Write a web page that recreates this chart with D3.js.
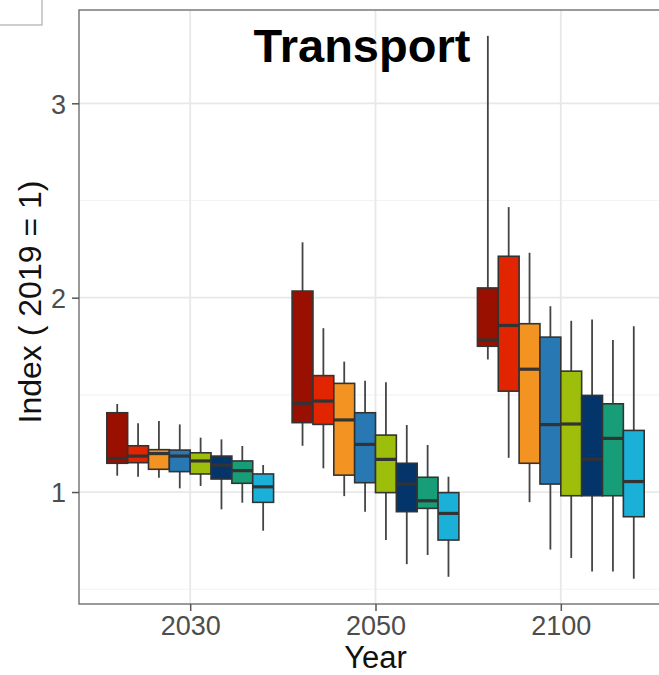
<!DOCTYPE html>
<html><head><meta charset="utf-8">
<script src="https://cdn.jsdelivr.net/npm/d3@7"></script>
<style>body{margin:0;background:#fff}svg{display:block}</style>
</head><body>
<svg id="c" width="659" height="675"></svg>
<script>
const years = ["2030", "2050", "2100"];
const series = ["s1", "s2", "s3", "s4", "s5", "s6", "s7", "s8"];
const colors = ["#9A1000", "#E12500", "#F39322", "#2878B4", "#9DBE0A", "#04356A", "#179E78", "#1AB0D8"];
const yTicks = [1, 2, 3];
// [whiskerLow, q1, median, q3, whiskerHigh] per year, per series
const stats2030 = [
  [1.084, 1.148, 1.173, 1.408, 1.453],
  [1.079, 1.151, 1.185, 1.238, 1.354],
  [1.074, 1.117, 1.198, 1.218, 1.365],
  [1.019, 1.105, 1.185, 1.216, 1.348],
  [1.031, 1.093, 1.160, 1.202, 1.280],
  [0.911, 1.067, 1.139, 1.185, 1.271],
  [0.945, 1.045, 1.110, 1.160, 1.237],
  [0.801, 0.947, 1.027, 1.093, 1.139]
];
const stats2050 = [
  [1.238, 1.357, 1.457, 2.034, 2.285],
  [1.122, 1.348, 1.468, 1.599, 1.843],
  [0.979, 1.087, 1.371, 1.559, 1.671],
  [0.899, 1.048, 1.245, 1.408, 1.573],
  [0.753, 0.997, 1.168, 1.293, 1.565],
  [0.629, 0.899, 1.041, 1.148, 1.345],
  [0.676, 0.916, 0.955, 1.076, 1.242],
  [0.564, 0.753, 0.890, 0.997, 1.079]
];
const stats2100 = [
  [1.682, 1.750, 1.782, 2.050, 3.347],
  [1.176, 1.519, 1.857, 2.213, 2.466],
  [0.948, 1.148, 1.632, 1.866, 2.231],
  [0.704, 1.041, 1.347, 1.797, 1.956],
  [0.661, 0.981, 1.350, 1.622, 1.881],
  [0.591, 0.981, 1.169, 1.497, 1.888],
  [0.591, 0.981, 1.276, 1.454, 1.782],
  [0.554, 0.873, 1.054, 1.317, 1.853]
];
const statsByYear = [stats2030, stats2050, stats2100];

const svg = d3.select("#c");
const L = 79, R = 672, T = 10, B = 604;

const xLin = d3.scaleLinear().domain([0.4, 3.6]).range([L, R]);
const xPt = d3.scalePoint().domain(years).range([xLin(1), xLin(3)]);
const inner = d3.scaleBand().domain(series).range([-0.45, 0.45]);
const y = d3.scaleLinear().domain([0.424, 3.48]).range([B, T]);

// small box top-left
svg.append("rect").attr("x", -2).attr("y", -2).attr("width", 44).attr("height", 27)
  .attr("fill", "#fff").attr("stroke", "#b0b0b0").attr("stroke-width", 1.2);

// panel background
svg.append("rect").attr("x", L).attr("y", T).attr("width", R - L).attr("height", B - T).attr("fill", "#fff");

// grid
const g = svg.append("g");
[0.5, 1.5, 2.5].forEach(v => {
  g.append("line").attr("x1", L).attr("x2", R).attr("y1", y(v)).attr("y2", y(v))
    .attr("stroke", "#F3F3F3").attr("stroke-width", 1.2);
});
yTicks.forEach(v => {
  g.append("line").attr("x1", L).attr("x2", R).attr("y1", y(v)).attr("y2", y(v))
    .attr("stroke", "#E8E8E8").attr("stroke-width", 1.8);
});
years.forEach(yr => {
  g.append("line").attr("x1", xPt(yr)).attr("x2", xPt(yr)).attr("y1", T).attr("y2", B)
    .attr("stroke", "#E8E8E8").attr("stroke-width", 1.8);
});

// boxes
const unit = xLin(1) - xLin(0);
const bw = inner.bandwidth() * unit;
years.forEach((yr, yi) => {
  statsByYear[yi].forEach((s, si) => {
    const cx = xPt(yr) + (inner(series[si]) + inner.bandwidth() / 2) * unit;
    const [lo, q1, med, q3, hi] = s;
    const bg = svg.append("g");
    bg.append("line").attr("x1", cx).attr("x2", cx).attr("y1", y(hi)).attr("y2", y(q3))
      .attr("stroke", "#444").attr("stroke-width", 1.8);
    bg.append("line").attr("x1", cx).attr("x2", cx).attr("y1", y(q1)).attr("y2", y(lo))
      .attr("stroke", "#444").attr("stroke-width", 1.8);
    bg.append("rect").attr("x", cx - bw / 2).attr("y", y(q3)).attr("width", bw)
      .attr("height", y(q1) - y(q3)).attr("fill", colors[si])
      .attr("stroke", "#333").attr("stroke-width", 1.6);
    bg.append("line").attr("x1", cx - bw / 2).attr("x2", cx + bw / 2).attr("y1", y(med)).attr("y2", y(med))
      .attr("stroke", "#333").attr("stroke-width", 3.2);
  });
});

// panel border
svg.append("rect").attr("x", L).attr("y", T).attr("width", R - L).attr("height", B - T)
  .attr("fill", "none").attr("stroke", "#7a7a7a").attr("stroke-width", 1.5);

// axes
const ya = svg.append("g").attr("transform", `translate(${L},0)`)
  .call(d3.axisLeft(y).tickValues(yTicks).tickSize(7).tickPadding(6).tickFormat(d3.format("d")));
const xa = svg.append("g").attr("transform", `translate(0,${B})`)
  .call(d3.axisBottom(xPt).tickSize(7).tickPadding(5));
[ya, xa].forEach(a => {
  a.select(".domain").remove();
  a.selectAll(".tick line").attr("stroke", "#555").attr("stroke-width", 1.5);
  a.selectAll(".tick text").attr("fill", "#4D4D4D").attr("font-family", "Liberation Sans, Arial, sans-serif")
    .attr("font-size", 27);
});
ya.selectAll(".tick text").attr("dy", "0.36em");

// titles
svg.append("text").attr("x", 362).attr("y", 62).attr("text-anchor", "middle")
  .attr("font-family", "Liberation Sans, Arial, sans-serif").attr("font-weight", "bold")
  .attr("font-size", 47).attr("fill", "#000").text("Transport");
svg.append("text").attr("x", (L + R) / 2).attr("y", 668).attr("text-anchor", "middle")
  .attr("font-family", "Liberation Sans, Arial, sans-serif").attr("font-size", 31).attr("fill", "#111").text("Year");
svg.append("text").attr("transform", `translate(41,302) rotate(-90)`).attr("text-anchor", "middle")
  .attr("font-family", "Liberation Sans, Arial, sans-serif").attr("font-size", 32).attr("fill", "#111")
  .text("Index ( 2019 = 1)");
</script>
</body></html>
